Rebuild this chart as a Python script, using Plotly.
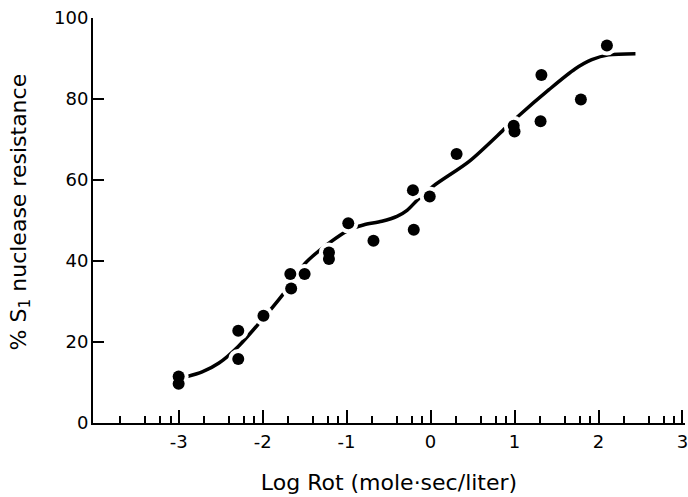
import math
import plotly.graph_objects as go

# Measured data points
log_rot = [-3.0, -3.0, -2.29, -2.29, -1.99, -1.67, -1.66, -1.50, -1.21, -1.21,
           -0.98, -0.68, -0.21, -0.20, -0.01, 0.31, 0.99, 1.00, 1.32, 1.31, 1.79, 2.10]
resistance = [11.5, 9.7, 22.8, 15.8, 26.5, 36.8, 33.2, 36.8, 42.1, 40.5,
              49.3, 45.0, 57.5, 47.7, 55.9, 66.4, 73.4, 72.0, 85.9, 74.5, 79.9, 93.2]

# Hand-drawn fitted curve
curve_x = [-2.91, -2.72, -2.52, -2.29, -2.04, -1.76, -1.49, -1.21, -0.97, -0.80, -0.58,
           -0.40, -0.28, -0.16, 0.04, 0.46, 0.89, 1.03, 1.41, 1.72, 1.92, 2.12, 2.44]
curve_y = [11.4, 12.6, 14.8, 18.9, 24.7, 31.7, 39.5, 44.4, 47.7, 48.9, 49.8,
           51.0, 52.5, 55.0, 58.6, 64.6, 72.8, 75.5, 82.3, 87.4, 89.7, 90.9, 91.2]

x_ticks = [-3, -2, -1, 0, 1, 2, 3]
x_ticklabels = ["-3", "-2", "-1", "0", "1", "2", "3"]
y_ticks = [0, 20, 40, 60, 80, 100]
minor_multiples = [2, 4, 6, 8]
decades = [-4, -3, -2, -1, 0, 1, 2]

minor_vals = [d + math.log10(k) for d in decades for k in minor_multiples]

FONT = "DejaVu Sans"

fig = go.Figure()
fig.add_trace(go.Scatter(x=curve_x, y=curve_y, mode="lines",
                         line=dict(color="black", width=3.5, shape="spline", smoothing=0.8),
                         hoverinfo="skip", showlegend=False))
fig.add_trace(go.Scatter(x=log_rot, y=resistance, mode="markers",
                         marker=dict(color="white", size=20),
                         hoverinfo="skip", showlegend=False))
fig.add_trace(go.Scatter(x=log_rot, y=resistance, mode="markers",
                         marker=dict(color="black", size=12),
                         showlegend=False))

fig.update_layout(
    width=688, height=497,
    margin=dict(l=93, r=3, t=18, b=74),
    paper_bgcolor="white", plot_bgcolor="white",
    font=dict(family=FONT, size=18, color="black"),
    xaxis=dict(range=[-4.02, 3.03], tickvals=x_ticks, ticktext=x_ticklabels,
               ticks="inside", ticklen=13, tickwidth=2, tickcolor="black",
               showline=True, linewidth=2, linecolor="black",
               showgrid=False, zeroline=False, ticklabeloverflow="allow",
               automargin=False, ticklabelstandoff=1,
               tickfont=dict(family=FONT, size=18),
               minor=dict(tickmode="array", tickvals=minor_vals, ticks="inside",
                          ticklen=7, tickwidth=2, tickcolor="black", showgrid=False),
               title=dict(text="Log Rot (mole·sec/liter)", standoff=24,
                          font=dict(family=FONT, size=22))),
    yaxis=dict(range=[0, 100], tickvals=y_ticks,
               ticks="inside", ticklen=11, tickwidth=2, tickcolor="black",
               showline=True, linewidth=2, linecolor="black",
               showgrid=False, zeroline=False, automargin=False,
               ticklabelstandoff=-1, ticklabeloverflow="allow",
               tickfont=dict(family=FONT, size=18)),
    annotations=[dict(text="% S<sub>1</sub> nuclease resistance",
                      xref="paper", yref="paper", x=0, y=0.52,
                      xshift=-73, textangle=-90, showarrow=False,
                      xanchor="center", yanchor="middle",
                      font=dict(family=FONT, size=22))],
)

fig.write_html("out.html",
               config={"displayModeBar": False},
               post_script="document.body.style.margin='0';document.body.style.overflow='hidden';")
